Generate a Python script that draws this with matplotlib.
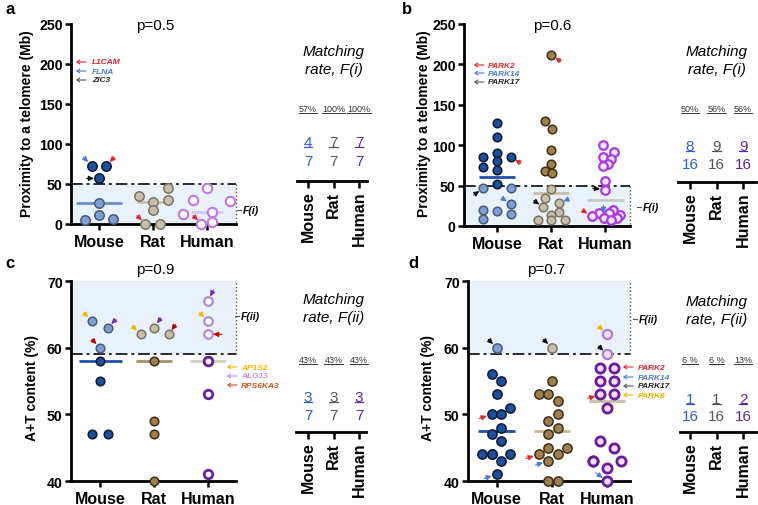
import matplotlib
matplotlib.use('Agg')
import matplotlib.pyplot as plt
from matplotlib.lines import Line2D
from matplotlib.patches import FancyArrowPatch
from matplotlib.transforms import blended_transform_factory
import numpy as np

plt.rcParams['font.family'] = ['Liberation Sans', 'DejaVu Sans']

W, H = 758, 506
species = ['Mouse', 'Rat', 'Human']

# ---------------- data ----------------
# a: proximity to a telomere (Mb)
a_mouse = [73, 73, 57, 26, 5, 11, 6]
a_rat = [35, 45, 28, 30, 17, 0, 0]
a_human = [45, 30, 15, 29, 12, 3, 0]
a_pct = ['57%', '100%', '100%']
a_num = ['4', '7', '7']
a_den = ['7', '7', '7']
a_p = 'p=0.5'
a_genes = ['L1CAM', 'FLNA', 'ZIC3']

# b: proximity to a telomere (Mb)
b_mouse = [127, 110, 86, 90, 86, 80, 73, 69, 52, 47, 47, 27, 19, 20, 15, 9]
b_rat = [212, 130, 120, 94, 77, 68, 65, 46, 35, 28, 23, 17, 13, 7, 7, 7]
b_human = [100, 92, 86, 83, 77, 74, 56, 45, 20, 16, 16, 14, 12, 10, 10, 8]
b_pct = ['50%', '56%', '56%']
b_num = ['8', '9', '9']
b_den = ['16', '16', '16']
b_p = 'p=0.6'
b_genes = ['PARK2', 'PARK14', 'PARK17']

# c: A+T content (%)
c_mouse = [64, 63, 60, 58, 55, 47, 47]
c_rat = [62, 63, 62, 58, 49, 47, 40]
c_human = [67, 64, 62, 58, 58, 53, 41]
c_pct = ['43%', '43%', '43%']
c_num = ['3', '3', '3']
c_den = ['7', '7', '7']
c_p = 'p=0.9'
c_genes = ['AP1S2', 'ALG13', 'RPS6KA3']

# d: A+T content (%)
d_mouse = [60, 56, 55, 53, 51, 50, 50, 48, 47, 46, 44, 44, 44, 44, 43, 41]
d_rat = [60, 55, 53, 53, 52, 50, 49, 48, 47, 45, 45, 44, 44, 43, 40, 40]
d_human = [62, 59, 57, 57, 55, 55, 53, 53, 51, 46, 45, 43, 43, 43, 42, 40]
d_pct = ['6 %', '6 %', '13%']
d_num = ['1', '1', '2']
d_den = ['16', '16', '16']
d_p = 'p=0.7'
d_genes = ['PARK2', 'PARK14', 'PARK17', 'PARK8']

# ---------------- layout (jitter offsets, in category units) ----------------
a_dx = [[-0.135, 0.13, 0, 0, -0.26, 0, 0.25],
        [-0.25, 0.27, 0, 0.27, 0, -0.14, 0.13],
        [0, -0.25, 0.1, 0.43, -0.44, 0.1, -0.1]]
b_dx = [[0, 0, -0.25, 0, 0.26, 0, -0.25, 0, 0, -0.25, 0.26, 0.26, 0, -0.25, 0.26, -0.25],
        [0, -0.12, 0.02, 0, 0, -0.12, 0.02, 0, -0.12, 0.14, -0.14, 0.14, 0, -0.25, 0, 0.26],
        [-0.04, 0.17, -0.04, 0.1, 0.06, -0.04, 0, 0, 0.15, -0.12, 0.08, 0.27, -0.25, -0.03, 0.22, 0.1]]
c_dx = [[-0.15, 0.14, 0, 0, 0, -0.15, 0.14],
        [-0.25, 0, 0.27, 0, 0, 0, 0],
        [0, 0, 0, 0, 0, 0, 0]]
d_dx = [[0, -0.09, 0.08, 0, 0.25, -0.09, 0.08, 0.08, -0.09, 0.08, -0.26, -0.09, 0.25, -0.09, 0.08, 0],
        [0, 0, -0.24, -0.07, 0.11, 0.11, -0.07, 0.11, -0.07, -0.07, 0.27, 0.11, -0.24, -0.07, -0.07, 0.11],
        [0, 0, -0.12, 0.13, -0.12, 0.13, -0.12, 0.13, 0, -0.12, 0.13, -0.26, 0.26, -0.26, 0, 0]]

RED = '#E3262B'
BLUE = '#4C7BD0'
BLACK = '#111111'
YEL = '#F4B400'
PURP = '#7A2DB0'
LIL = '#C48BEA'
ORG = '#C8551E'
DRED = '#C00000'

MOUSE_D, MOUSE_DE = '#1F4E9A', '#0A1A35'
MOUSE_L, MOUSE_LE = '#7E9FD3', '#4A5A78'
RAT_D, RAT_DE = '#9E8050', '#3D2E18'
RAT_L, RAT_LE = '#C8BEAC', '#7C7464'
SHADE = '#E9F1FB'

fig = plt.figure(figsize=(W / 100, H / 100), dpi=100)


def px_rect(l, t, r, b):
    return [l / W, 1 - b / H, (r - l) / W, (b - t) / H]


def T(x, y, s, **kw):
    return fig.text(x / W, 1 - y / H, s, **kw)


def style_main(ax, yticks):
    for s in ['top', 'right']:
        ax.spines[s].set_visible(False)
    for s in ['left', 'bottom']:
        ax.spines[s].set_linewidth(2)
    ax.set_xticks([0, 1, 2])
    ax.set_xticklabels(species, fontsize=11.5, fontweight='bold')
    ax.set_yticks(yticks)
    ax.set_yticklabels([str(v) for v in yticks], fontsize=10.2, fontweight='bold')
    ax.tick_params(axis='both', length=4.5, width=1.8, pad=1.5)
    ax.tick_params(axis='x', pad=3)


def main_panel(rect, xlim, ylim, yticks, groups, dxs, light_fn, styles, med_colors,
               med_hw, size, thr, shade, bracket_top):
    ax = fig.add_axes(px_rect(*rect))
    ax.set_xlim(*xlim)
    ax.set_ylim(*ylim)
    ax.axhspan(shade[0], shade[1], color=SHADE, zorder=0, lw=0)
    ax.axhline(thr, color='#2a2a2a', lw=1.4, ls=(0, (6, 2, 1.5, 2)), zorder=1)
    tr = blended_transform_factory(ax.transAxes, ax.transData)
    ax.plot([1.0, 1.0], [thr, bracket_top], transform=tr, ls=':', color='#555555',
            lw=1.0, clip_on=False, zorder=1)
    for gi, (vals, dx) in enumerate(zip(groups, dxs)):
        vals = np.asarray(vals, float)
        med = np.median(vals)
        ax.plot([gi - med_hw[gi], gi + med_hw[gi]], [med, med], color=med_colors[gi],
                lw=2, zorder=2, solid_capstyle='butt')
        for v, d in zip(vals, dx):
            st = styles[gi](light_fn(v))
            ax.scatter(gi + d, v, s=size, zorder=3, clip_on=False, **st)
    style_main(ax, yticks)
    return ax


ARROW = '-|>,head_length=0.32,head_width=0.15'


def arrow(ax, groups, dxs, gi, pi, color, ox, oy):
    x = gi + dxs[gi][pi]
    y = groups[gi][pi]
    ax.annotate('', xy=(x, y), xytext=(ox, oy), textcoords='offset points',
                arrowprops=dict(arrowstyle=ARROW, color=color, lw=0.8, shrinkA=0, shrinkB=3.6),
                zorder=4, annotation_clip=False)


def mouse_style(light):
    if light:
        return dict(c=MOUSE_L, edgecolors=MOUSE_LE, linewidths=1.1)
    return dict(c=MOUSE_D, edgecolors=MOUSE_DE, linewidths=1.1)


def rat_style(light):
    if light:
        return dict(c=RAT_L, edgecolors=RAT_LE, linewidths=1.1)
    return dict(c=RAT_D, edgecolors=RAT_DE, linewidths=1.1)


def human_a(light):
    return dict(c='white', edgecolors='#C276E2', linewidths=1.5)


def human_b(light):
    return dict(c='#F4E4FB', edgecolors='#A63BE3', linewidths=1.6)


def human_c(light):
    if light:
        return dict(c='white', edgecolors='#B58ADA', linewidths=1.6)
    return dict(c='white', edgecolors='#6A1FA0', linewidths=2.0)


def human_d(light):
    if light:
        return dict(c='#F2E1F7', edgecolors='#B27AD8', linewidths=1.6)
    return dict(c='#F2DDF6', edgecolors='#6A1B9A', linewidths=2.0)


# ---------------- panel a ----------------
ga = [a_mouse, a_rat, a_human]
axa = main_panel((71, 25, 236, 225), (-0.52, 2.54), (0, 250), [0, 50, 100, 150, 200, 250],
                 ga, a_dx, lambda v: v <= 50, [mouse_style, rat_style, human_a],
                 ['#6F8FCA', '#C9BCA0', '#D9C9EA'], [0.42, 0.3, 0.3], 46, 50, (0, 50), 0)
arrow(axa, ga, a_dx, 0, 0, BLUE, -6, 6)
arrow(axa, ga, a_dx, 0, 1, RED, 6, 6)
arrow(axa, ga, a_dx, 0, 2, BLACK, -9, 0)
arrow(axa, ga, a_dx, 1, 5, RED, -6, 6)
arrow(axa, ga, a_dx, 2, 6, RED, -6, 6)

# ---------------- panel b ----------------
gb = [b_mouse, b_rat, b_human]
axb = main_panel((464, 25, 630, 227), (-0.61, 2.46), (0, 250), [0, 50, 100, 150, 200, 250],
                 gb, b_dx, lambda v: v <= 50, [mouse_style, rat_style, human_b],
                 ['#1F4EA8', '#C9BFA9', '#C9C9C9'], [0.33, 0.34, 0.34], 38, 50, (0, 50), 0)
arrow(axb, gb, b_dx, 0, 4, RED, 7, -5)
arrow(axb, gb, b_dx, 0, 9, BLACK, -7, -5)
arrow(axb, gb, b_dx, 0, 11, BLUE, -6, 4)
arrow(axb, gb, b_dx, 1, 0, RED, 7, -5)
arrow(axb, gb, b_dx, 1, 10, BLACK, -7, 5)
arrow(axb, gb, b_dx, 1, 9, BLUE, 7, 3)
arrow(axb, gb, b_dx, 2, 7, BLACK, -9, 1)
arrow(axb, gb, b_dx, 2, 13, BLUE, 0, 9)
arrow(axb, gb, b_dx, 2, 12, RED, -6, 4)

# ---------------- panel c ----------------
gc = [c_mouse, c_rat, c_human]
axc = main_panel((71, 282, 236, 482), (-0.54, 2.52), (40, 70), [40, 50, 60, 70],
                 gc, c_dx, lambda v: v >= 59, [mouse_style, rat_style, human_c],
                 ['#1F4EA8', '#A8905F', '#D3CFC8'], [0.4, 0.34, 0.34], 38, 59, (59, 70), 70)
arrow(axc, gc, c_dx, 0, 0, YEL, -6, 6)
arrow(axc, gc, c_dx, 0, 1, PURP, 6, 6)
arrow(axc, gc, c_dx, 0, 2, DRED, -6, 6)
arrow(axc, gc, c_dx, 1, 0, YEL, -6, 6)
arrow(axc, gc, c_dx, 1, 1, PURP, 5, 7)
arrow(axc, gc, c_dx, 1, 2, DRED, 5, 7)
arrow(axc, gc, c_dx, 2, 0, PURP, 4, 8)
arrow(axc, gc, c_dx, 2, 1, YEL, -6, 6)
arrow(axc, gc, c_dx, 2, 2, DRED, 10, 0)

# ---------------- panel d ----------------
gd = [d_mouse, d_rat, d_human]
axd = main_panel((468, 282, 630, 482), (-0.52, 2.42), (40, 70), [40, 50, 60, 70],
                 gd, d_dx, lambda v: v >= 59, [mouse_style, rat_style, human_d],
                 ['#1F4EA8', '#C8B48E', '#C9BEA8'], [0.33, 0.33, 0.33], 44, 59, (59, 70), 70)
arrow(axd, gd, d_dx, 0, 0, BLACK, -6, 6)
arrow(axd, gd, d_dx, 0, 5, RED, -9, -3)
arrow(axd, gd, d_dx, 0, 15, BLUE, -9, -3)
arrow(axd, gd, d_dx, 1, 0, BLACK, -6, 6)
arrow(axd, gd, d_dx, 1, 12, RED, -9, -3)
arrow(axd, gd, d_dx, 1, 13, BLUE, -9, -3)
arrow(axd, gd, d_dx, 2, 0, YEL, -6, 6)
arrow(axd, gd, d_dx, 2, 1, BLACK, -6, 6)
arrow(axd, gd, d_dx, 2, 6, RED, -9, -3)
arrow(axd, gd, d_dx, 2, 15, BLUE, -8, 6)

# ---------------- titles, labels, panel letters ----------------
T(155, 26, a_p, fontsize=11, ha='center', va='center')
T(552, 26, b_p, fontsize=11, ha='center', va='center')
T(155, 270, c_p, fontsize=11, ha='center', va='center')
T(546, 270, d_p, fontsize=11, ha='center', va='center')

ylab1 = 'Proximity to a telomere (Mb)'
ylab2 = 'A+T content (%)'
T(27, 124, ylab1, fontsize=10, fontweight='bold', rotation=90, ha='center', va='center')
T(424, 124, ylab1, fontsize=10, fontweight='bold', rotation=90, ha='center', va='center')
T(32, 388, ylab2, fontsize=10, fontweight='bold', rotation=90, ha='center', va='center')
T(428, 388, ylab2, fontsize=10, fontweight='bold', rotation=90, ha='center', va='center')

for x, y, s in [(5, 10, 'a'), (402, 10, 'b'), (5, 264, 'c'), (408, 264, 'd')]:
    T(x, y, s, fontsize=12, fontweight='bold', ha='left', va='center')

# F(i)/F(ii) labels with a small tick from the dotted bracket
for x, y, s in [(243, 211, 'F(i)'), (643, 208, 'F(i)'), (241, 317, 'F(ii)'), (639, 320, 'F(ii)')]:
    T(x, y, s, fontsize=7.5, fontweight='bold', style='italic', ha='left', va='center')
    fig.add_artist(Line2D([(x - 6) / W, (x - 2) / W], [1 - y / H, 1 - y / H],
                          color='#555555', lw=0.8))


# gene legends (arrow + italic name)
def gene_legend(x_arrow, x_text, ys, names, colors, arrow_colors):
    for y, n, c, ac in zip(ys, names, colors, arrow_colors):
        yf = 1 - y / H
        fig.add_artist(FancyArrowPatch(
            ((x_arrow + 5) / W, yf), ((x_arrow - 5) / W, yf), transform=fig.transFigure,
            arrowstyle='->,head_length=2.0,head_width=1.4', color=ac, lw=0.8,
            shrinkA=0, shrinkB=0))
        T(x_text, y, n, fontsize=6, fontweight='bold', style='italic', color=c,
          ha='left', va='center')


gene_legend(81, 92, [63, 72, 81], a_genes, [RED, BLUE, '#222222'], [RED, BLUE, '#555555'])
gene_legend(479, 488, [66, 74, 83], b_genes, [RED, BLUE, '#222222'], [RED, BLUE, '#555555'])
gene_legend(232, 241, [368, 377, 386], c_genes, [YEL, LIL, ORG], [YEL, LIL, ORG])
gene_legend(628, 638, [368, 378, 387, 396], d_genes, [RED, BLUE, '#222222', YEL],
            [RED, BLUE, '#555555', YEL])

# ---------------- matching-rate panels ----------------
frac_colors = ['#2F5FC8', '#555555', '#5A2A9E']
underlines = []


def rate_panel(l, r, line_y, ticks_px, title, pct, num, den, y_title, y_pct, y_num, y_den):
    sp = (ticks_px[2] - ticks_px[0]) / 2.0
    ax = fig.add_axes(px_rect(l, line_y - 140, r, line_y))
    ax.set_xlim((l - ticks_px[0]) / sp, (r - ticks_px[0]) / sp)
    ax.set_ylim(0, 1)
    for s in ['top', 'right', 'left']:
        ax.spines[s].set_visible(False)
    ax.spines['bottom'].set_linewidth(2)
    ax.set_yticks([])
    ax.set_xticks([0, 1, 2])
    ax.set_xticklabels(species, rotation=90, fontsize=11.5, fontweight='bold')
    ax.tick_params(axis='x', length=5, width=1.8, pad=2)
    ax.patch.set_visible(False)
    tr = blended_transform_factory(ax.transData, fig.transFigure)
    ax.text(1, 1 - y_title / H, title, transform=tr, fontsize=11, style='italic',
            ha='center', va='center', linespacing=1.3)
    for i in range(3):
        tp = ax.text(i, 1 - y_pct / H, pct[i], transform=tr, fontsize=6.5, color='#333333',
                     ha='center', va='center')
        tn = ax.text(i, 1 - y_num / H, num[i], transform=tr, fontsize=11,
                     color=frac_colors[i], ha='center', va='center')
        ax.text(i, 1 - y_den / H, den[i], transform=tr, fontsize=11,
                color=frac_colors[i], ha='center', va='center')
        underlines.append((tp, '#333333', 0.7, 0.8))
        underlines.append((tn, frac_colors[i], 0.9, 2.0))
    return ax


rate_panel(297, 367, 182, [308, 333.5, 359], 'Matching\nrate, F(i)', a_pct, a_num, a_den,
           61, 110, 143, 162)
rate_panel(678, 756, 183, [690, 716.5, 743], 'Matching\nrate, F(i)', b_pct, b_num, b_den,
           61, 110, 147, 165)
rate_panel(296, 366, 433, [308, 333.5, 359], 'Matching\nrate, F(ii)', c_pct, c_num, c_den,
           309, 361, 398, 416)
rate_panel(680, 756, 433, [690, 716.5, 743], 'Matching\nrate, F(ii)', d_pct, d_num, d_den,
           311, 361, 400, 417)

fig.canvas.draw()
renderer = fig.canvas.get_renderer()
inv = fig.transFigure.inverted()
for t, c, lw, off in underlines:
    bb = t.get_window_extent(renderer)
    (x0, y0), (x1, _) = inv.transform([(bb.x0, bb.y0 + off), (bb.x1, bb.y0 + off)])
    fig.add_artist(Line2D([x0, x1], [y0, y0], color=c, lw=lw))

fig.savefig('out.png', dpi=100)
